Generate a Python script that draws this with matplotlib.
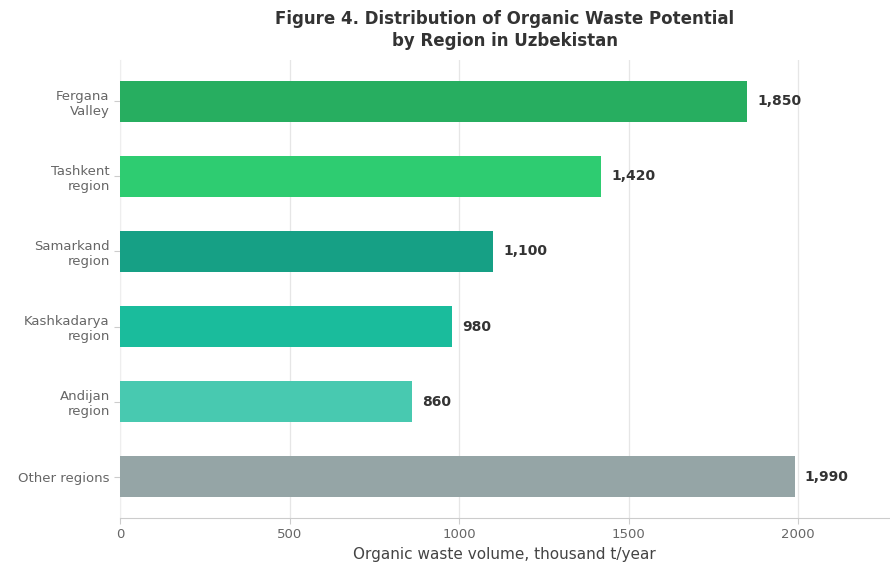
import matplotlib
matplotlib.use("Agg")
import matplotlib.pyplot as plt

# Organic waste potential by region (thousand t/year)
regions = ["Fergana\nValley", "Tashkent\nregion", "Samarkand\nregion",
           "Kashkadarya\nregion", "Andijan\nregion", "Other regions"]
volumes = [1850, 1420, 1100, 980, 860, 1990]
colors = ["#27ae60", "#2ecc71", "#16a085", "#1abc9c", "#48c9b0", "#95a5a6"]

fig, ax = plt.subplots(figsize=(8.9, 5.69), dpi=100)
fig.subplots_adjust(left=0.135, right=0.999, bottom=0.0896, top=0.8946)

ypos = list(range(len(regions)))
ax.barh(ypos, volumes, height=0.55, color=colors, zorder=3)
ax.invert_yaxis()
ax.set_yticks(ypos)
ax.set_yticklabels(regions, fontsize=9.5, color="#666666")
ax.set_xlim(0, max(volumes) * 1.14)
ax.tick_params(axis="x", labelsize=9.5, colors="#666666", length=4, color="#cccccc")
ax.tick_params(axis="y", length=4, color="#cccccc")

for y, v in zip(ypos, volumes):
    ax.text(v + 30, y, f"{v:,}", va="center", ha="left",
            fontsize=10, fontweight="bold", color="#333333")

ax.grid(axis="x", color="#e6e6e6", linewidth=0.9, zorder=0)
ax.set_axisbelow(True)
for s in ["top", "right"]:
    ax.spines[s].set_visible(False)
ax.spines["left"].set_color("#eeeeee")
ax.spines["bottom"].set_color("#cccccc")

ax.set_xlabel("Organic waste volume, thousand t/year", fontsize=11, color="#444444")
ax.set_title("Figure 4. Distribution of Organic Waste Potential\nby Region in Uzbekistan",
             fontsize=12, fontweight="bold", color="#333333", pad=10, linespacing=1.3)

fig.savefig("out.png", dpi=100)
